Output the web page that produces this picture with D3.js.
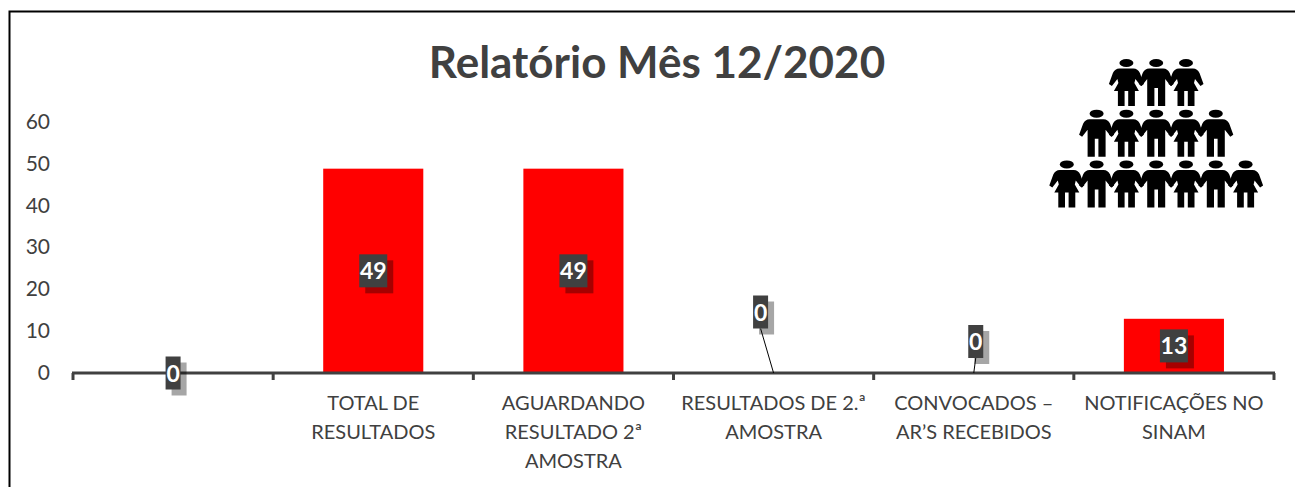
<!DOCTYPE html>
<html>
<head>
<meta charset="utf-8">
<script src="https://d3js.org/d3.v7.min.js"></script>
<style>
  html, body { margin: 0; padding: 0; background: #fff; overflow: hidden; }
  text { font-family: Lato, "Open Sans", sans-serif; }
</style>
</head>
<body>
<script>
// chart values
var categories = ["", "TOTAL DE RESULTADOS", "AGUARDANDO RESULTADO 2ª AMOSTRA", "RESULTADOS DE 2.ª AMOSTRA", "CONVOCADOS – AR’S RECEBIDOS", "NOTIFICAÇÕES NO SINAM"];
var values = [0, 49, 49, 0, 0, 13];
var categoryLines = [[], ["TOTAL DE", "RESULTADOS"], ["AGUARDANDO", "RESULTADO 2ª", "AMOSTRA"], ["RESULTADOS DE 2.ª", "AMOSTRA"], ["CONVOCADOS –", "AR’S RECEBIDOS"], ["NOTIFICAÇÕES NO", "SINAM"]];
var yTicks = [0, 10, 20, 30, 40, 50, 60];
// how far each 0 label was dragged away from its spot, as in the original
var labelLift = [0, 0, 0, 61, 31.5, 0];
var labelShift = [0, 0, 0, -13, 2, 0];
// icon rows: f = woman, m = man
var peopleRows = ["fmf", "mfmfm", "fmfmfmf"];

var W = 1295, H = 487;
var svg = d3.select("body").append("svg").attr("width", W).attr("height", H);

// frame: left and top only, the crop cuts off the rest
svg.append("path")
  .attr("d", "M9.5,487V11.5H1295")
  .attr("fill", "none").attr("stroke", "#000").attr("stroke-width", 2);

svg.append("text").attr("x", 657).attr("y", 78).attr("text-anchor", "middle")
  .attr("font-size", 44).attr("font-weight", 700).attr("fill", "#404040")
  .text("Relatório Mês 12/2020");

var x = d3.scaleBand().domain(d3.range(categories.length)).range([73, 1274]);
var y = d3.scaleLinear().domain([0, 60]).range([373, 122.8]);

// y labels, no axis line
svg.append("g").selectAll("text").data(yTicks).enter().append("text")
  .attr("x", 50).attr("y", function(d) { return y(d); }).attr("dy", 6.5)
  .attr("text-anchor", "end").attr("font-size", 21).attr("fill", "#404040")
  .text(function(d) { return d; });

// bars
svg.append("g").selectAll("rect").data(values).enter().append("rect")
  .attr("x", function(d, i) { return x(i) + x.bandwidth() / 4; })
  .attr("width", x.bandwidth() / 2)
  .attr("y", function(d) { return y(d); })
  .attr("height", function(d) { return y(0) - y(d); })
  .attr("fill", "#ff0000");

// x axis with ticks at the band edges
var axisGroup = svg.append("g").attr("stroke", "#404040").attr("fill", "none");
axisGroup.append("line").attr("x1", 72).attr("x2", 1275).attr("y1", y(0)).attr("y2", y(0)).attr("stroke-width", 3);
axisGroup.selectAll("line.tick").data(d3.range(categories.length + 1)).enter().append("line")
  .attr("class", "tick")
  .attr("x1", function(d) { return x.step() * d + 73; })
  .attr("x2", function(d) { return x.step() * d + 73; })
  .attr("y1", y(0)).attr("y2", y(0) + 7).attr("stroke-width", 3);

// category labels
categoryLines.forEach(function(lines, i) {
  svg.append("text").attr("text-anchor", "middle").attr("font-size", 20).attr("fill", "#404040")
    .selectAll("tspan").data(lines).enter().append("tspan")
    .attr("x", x(i) + x.bandwidth() / 2)
    .attr("y", function(d, j) { return 410 + j * 29; })
    .text(function(d) { return d; });
});

// data labels: leader line, shadow, dark box, white number
var labels = svg.append("g").selectAll("g").data(values).enter().append("g")
  .attr("transform", function(d, i) {
    return "translate(" + (x(i) + x.bandwidth() / 2 + labelShift[i]) + "," + (y(d / 2) - labelLift[i]) + ")";
  });
labels.each(function(d, i) {
  var g = d3.select(this);
  var w = d >= 10 ? 28 : 15, h = 33;
  if (labelLift[i]) {
    g.append("line").attr("x1", 0).attr("y1", h / 2)
      .attr("x2", -labelShift[i]).attr("y2", labelLift[i])
      .attr("stroke", "#000").attr("stroke-width", 1);
  }
  g.append("rect").attr("x", -w / 2 + 6).attr("y", -h / 2 + 6).attr("width", w).attr("height", h)
    .attr("fill", "#000").attr("opacity", 0.35);
  g.append("rect").attr("x", -w / 2).attr("y", -h / 2).attr("width", w).attr("height", h).attr("fill", "#404040");
  g.append("text").attr("text-anchor", "middle").attr("y", 8.5).attr("font-size", 23)
    .attr("font-weight", 700).attr("fill", "#fff").text(d);
});

// people icon
var manShape = "M-7,-14.5H7C10,-14.5 12,-13 13.5,-10L17.5,1L14.5,3L9,-4V23H1.8V5H-1.8V23H-9V-4L-14.5,3L-17.5,1L-13.5,-10C-12,-13 -10,-14.5 -7,-14.5Z";
var womanShape = "M-7,-14.5H7C10,-14.5 12,-13 13.5,-10L17.5,1L14.5,3L9,-4L8,0L12.5,8H8.5V23H1.8V8H-1.8V23H-8.5V8H-12.5L-8,0L-9,-4L-14.5,3L-17.5,1L-13.5,-10C-12,-13 -10,-14.5 -7,-14.5Z";
function person(g, kind) {
  g.append("ellipse").attr("cx", 0).attr("cy", -20).attr("rx", 7).attr("ry", 4);
  g.append("path").attr("d", kind == "m" ? manShape : womanShape);
}
var iconGroup = svg.append("g").attr("fill", "#000");
peopleRows.forEach(function(row, r) {
  var startX = 1156.2 - (row.length - 1) * 14.9;
  row.split("").forEach(function(kind, i) {
    var g = iconGroup.append("g").attr("transform", "translate(" + (startX + i * 29.8) + "," + (83 + r * 50.7) + ")");
    person(g, kind);
  });
});
</script>
</body>
</html>
